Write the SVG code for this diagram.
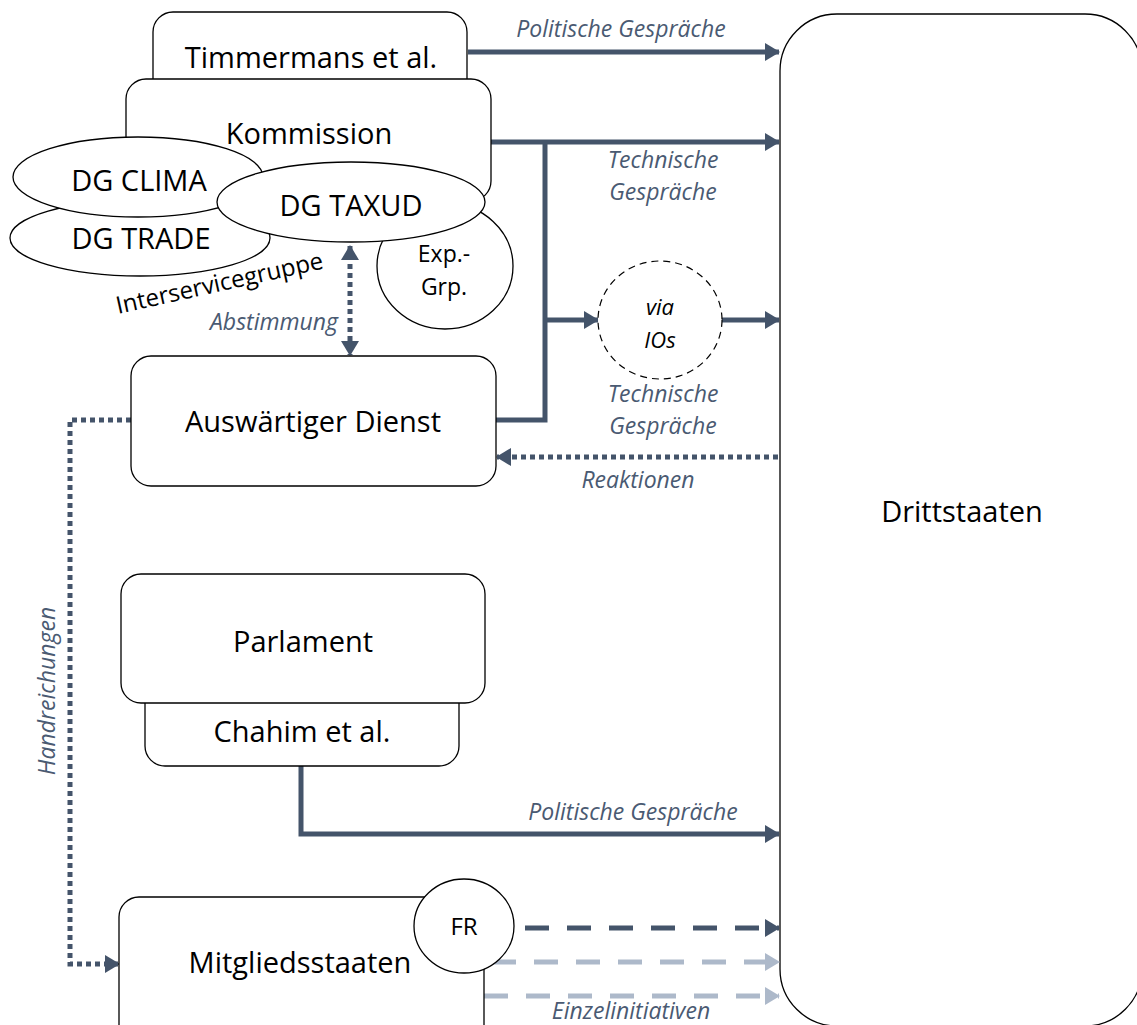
<svg xmlns="http://www.w3.org/2000/svg" width="1137" height="1025" viewBox="0 0 1137 1025">
<defs>
<style>
.box{fill:#fff;stroke:#000;stroke-width:1.3}
.dash{fill:#fff;stroke:#000;stroke-width:1.2;stroke-dasharray:7 5}
.t{font-family:"Open Sans","Noto Sans",sans-serif;font-size:29px;fill:#000;text-anchor:middle}
.ts{font-family:"Open Sans","Noto Sans",sans-serif;font-size:22px;fill:#000;text-anchor:middle}
.lbl{font-family:"Open Sans","Noto Sans",sans-serif;font-size:23px;font-style:italic;fill:#4a5a72;text-anchor:middle}
.c{fill:none;stroke:#44546a;stroke-width:5}
.dot{fill:none;stroke:#44546a;stroke-width:5;stroke-dasharray:5 4}
.dk{fill:none;stroke:#44546a;stroke-width:5;stroke-dasharray:24 18}
.lt{fill:none;stroke:#adb9ca;stroke-width:5;stroke-dasharray:24 18}
</style>
<marker id="ah" markerUnits="userSpaceOnUse" markerWidth="15" markerHeight="18" refX="14" refY="9" orient="auto-start-reverse" viewBox="0 0 15 18">
<path d="M0,0 L15,9 L0,18 z" fill="#44546a"/>
</marker>
<marker id="ahl" markerUnits="userSpaceOnUse" markerWidth="15" markerHeight="18" refX="14" refY="9" orient="auto" viewBox="0 0 15 18">
<path d="M0,0 L15,9 L0,18 z" fill="#adb9ca"/>
</marker>
</defs>
<rect width="1137" height="1025" fill="#fff"/>

<g id="drittstaaten">
<rect class="box" x="780" y="14" width="362" height="1012" rx="57"/>
<text class="t" x="962" y="522">Drittstaaten</text>
</g>

<g id="connectors">
<line class="c" x1="468" y1="52" x2="779" y2="52" marker-end="url(#ah)"/>
<text class="lbl" x="621" y="37">Politische Gespräche</text>
<line class="c" x1="491" y1="142" x2="779" y2="142" marker-end="url(#ah)"/>
<polyline class="c" points="545,142 545,420 496,420"/>
<line class="c" x1="545" y1="320" x2="598" y2="320" marker-end="url(#ah)"/>
<line class="c" x1="722" y1="320" x2="779" y2="320" marker-end="url(#ah)"/>
<text class="lbl" x="663" y="168">Technische</text>
<text class="lbl" x="663" y="200">Gespräche</text>
<text class="lbl" x="663" y="402">Technische</text>
<text class="lbl" x="663" y="434">Gespräche</text>
<line class="dot" x1="778" y1="457" x2="497" y2="457" marker-end="url(#ah)"/>
<text class="lbl" x="638" y="488">Reaktionen</text>
<line class="dot" x1="350" y1="246" x2="350" y2="355" marker-start="url(#ah)" marker-end="url(#ah)"/>
<text class="lbl" x="338" y="330" style="text-anchor:end">Abstimmung</text>
<polyline class="dot" points="131,420 70,420 70,964 119,964" marker-end="url(#ah)"/>
<text class="lbl" x="0" y="0" transform="translate(55,691) rotate(-90)">Handreichungen</text>
<polyline class="c" points="301,766 301,834 779,834" marker-end="url(#ah)"/>
<text class="lbl" x="633" y="820">Politische Gespräche</text>
<line class="dk" x1="525" y1="928" x2="779" y2="928" marker-end="url(#ah)"/>
<line class="lt" x1="492" y1="962" x2="779" y2="962" marker-end="url(#ahl)"/>
<line class="lt" x1="484" y1="996" x2="779" y2="996" marker-end="url(#ahl)"/>
<text class="lbl" x="631" y="1019">Einzelinitiativen</text>
</g>

<g id="timmermans">
<rect class="box" x="153" y="12" width="314" height="110" rx="20"/>
<text class="t" x="311" y="68">Timmermans et al.</text>
</g>

<g id="kommission">
<rect class="box" x="126" y="79" width="365" height="122" rx="20"/>
<text class="t" x="309" y="144">Kommission</text>
</g>

<g id="expgrp">
<ellipse class="box" cx="445" cy="266" rx="68" ry="63"/>
<text class="ts" x="444" y="262" style="font-size:23px">Exp.-</text>
<text class="ts" x="444" y="295" style="font-size:23px">Grp.</text>
</g>

<g id="dg-trade">
<ellipse class="box" cx="140" cy="238" rx="130" ry="38"/>
<text class="t" x="141" y="249">DG TRADE</text>
</g>

<g id="dg-clima">
<ellipse class="box" cx="138" cy="177" rx="125" ry="40"/>
<text class="t" x="139" y="191">DG CLIMA</text>
</g>

<g id="dg-taxud">
<ellipse class="box" cx="351" cy="202" rx="134" ry="40"/>
<text class="t" x="351" y="216">DG TAXUD</text>
</g>

<g id="interservicegruppe">
<text class="ts" x="0" y="0" transform="translate(118,314) rotate(-12.5)" style="text-anchor:start;font-size:24px">Interservicegruppe</text>
</g>

<g id="via-ios">
<ellipse class="dash" cx="660" cy="320" rx="62" ry="59"/>
<text class="ts" x="660" y="315" style="font-style:italic">via</text>
<text class="ts" x="660" y="348" style="font-style:italic">IOs</text>
</g>

<g id="auswaertiger-dienst">
<rect class="box" x="131" y="356" width="365" height="130" rx="20"/>
<text class="t" x="313" y="432">Auswärtiger Dienst</text>
</g>

<g id="chahim">
<rect class="box" x="145" y="680" width="314" height="86" rx="20"/>
<text class="t" x="302" y="742">Chahim et al.</text>
</g>

<g id="parlament">
<rect class="box" x="121" y="574" width="364" height="129" rx="20"/>
<text class="t" x="303" y="652">Parlament</text>
</g>

<g id="mitgliedsstaaten">
<rect class="box" x="119" y="897" width="365" height="150" rx="20"/>
<text class="t" x="300" y="973">Mitgliedsstaaten</text>
</g>

<g id="fr">
<ellipse class="box" cx="464" cy="926" rx="50" ry="47"/>
<text class="ts" x="464" y="935" style="font-size:24px">FR</text>
</g>
</svg>
